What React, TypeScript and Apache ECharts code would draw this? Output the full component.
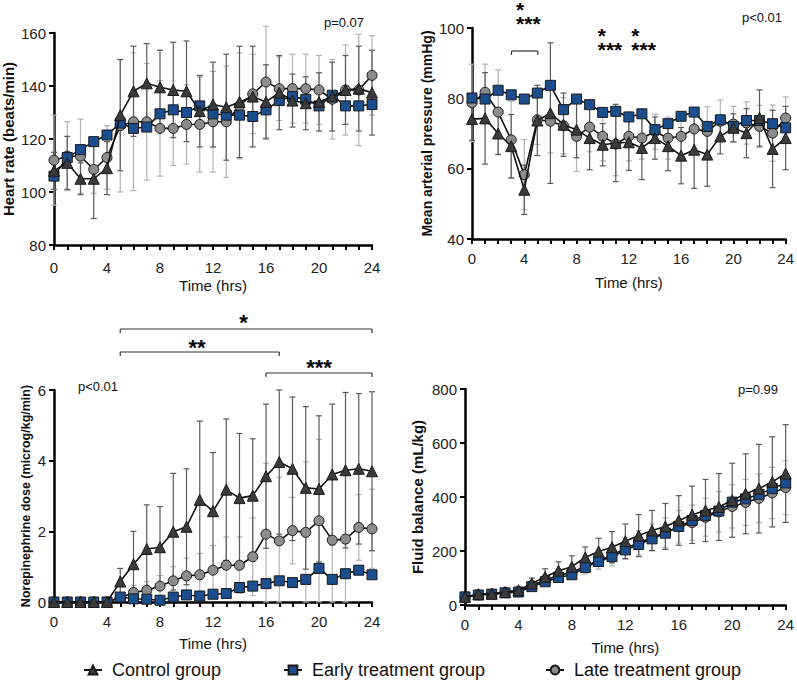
import React, { useEffect, useRef } from "react";
import * as echarts from "echarts";

const hours = [0, 1, 2, 3, 4, 5, 6, 7, 8, 9, 10, 11, 12, 13, 14, 15, 16, 17, 18, 19, 20, 21, 22, 23, 24];
const groupNames = ["Control group", "Early treatment group", "Late treatment group"];

// Heart rate (beats/min)
const hrControl = [108, 111, 105, 105, 109, 129, 138, 141, 139.5, 138.5, 138, 130.5, 133, 132, 134, 136, 134, 137.5, 134.5, 133.5, 134, 136, 138.5, 139, 137.5];
const hrEarly = [106, 113, 116, 119, 121.5, 126, 124, 124.5, 129.5, 131, 130, 132.5, 129.5, 129, 129, 128.5, 131, 134.5, 136, 135, 132.5, 136.5, 132.5, 132.5, 133];
const hrLate = [112, 113.5, 113.5, 108.5, 113, 125, 126.5, 126.5, 124, 124, 125.5, 125.5, 126.5, 126.5, 132.5, 137, 141.5, 139, 139, 139, 138.5, 135, 138.5, 138.5, 144];
const hrControlSd = [7, 10, 6, 15, 10, 21, 17, 15, 14, 18, 19, 13.5, 16, 20, 21, 19, 14, 14, 10, 10, 11, 13, 13, 16, 16];
const hrLateSd = [17, 13, 14, 9, 12, 25, 26, 22, 18, 14, 15, 18, 19, 21, 20, 15, 21, 12, 13, 13, 13, 15, 17, 21, 15];

// Mean arterial pressure (mmHg)
const mapControl = [74.1, 74.3, 70, 66.4, 54, 73.7, 75.8, 72.5, 71.1, 68.7, 66.8, 67.3, 67.5, 65.9, 68.7, 66.4, 63.7, 65.4, 64, 69.2, 71.6, 70.1, 74.4, 65.6, 68.7];
const mapEarly = [80.1, 79.8, 82.3, 81, 79.8, 81.5, 83.7, 76.8, 79.8, 78.2, 76, 76.3, 74.7, 75.6, 71.1, 72.8, 74.9, 76.1, 72, 73.9, 72, 73.7, 73.7, 72.8, 71.6];
const mapLate = [78.7, 81.7, 76.1, 68.2, 58.3, 73.9, 73.5, 72.2, 69.2, 71.8, 69.2, 67, 69.2, 68.7, 70.5, 68.7, 69.2, 71.3, 70.6, 73.5, 72.7, 73, 72, 70.1, 74.4];
const mapControlSd = [6, 13, 6, 9, 7, 10, 20, 9, 8, 9, 6, 11, 8, 9, 6, 7, 8, 11, 9, 5, 4, 7, 8, 11, 9];
const mapLateSd = [11, 8, 12, 11, 10, 7, 9, 8, 10, 7, 7, 9, 7, 6, 5, 6, 6, 6, 7, 6, 5, 6, 6, 8, 6];

// Norepinephrine dose (microg/kg/min)
const neControl = [0, 0, 0, 0, 0, 0.58, 1.07, 1.5, 1.55, 1.99, 2.13, 2.89, 2.57, 3.18, 2.94, 3.01, 3.56, 3.96, 3.77, 3.23, 3.2, 3.61, 3.73, 3.77, 3.7];
const neEarly = [0, 0, 0, 0, 0, 0.14, 0.09, 0.08, 0.05, 0.14, 0.2, 0.17, 0.22, 0.24, 0.41, 0.45, 0.52, 0.6, 0.55, 0.64, 0.95, 0.64, 0.8, 0.9, 0.77];
const neLate = [0, 0, 0, 0, 0, 0.12, 0.27, 0.33, 0.45, 0.6, 0.74, 0.77, 0.9, 1.04, 1.04, 1.28, 1.92, 1.73, 2.02, 1.97, 2.3, 1.75, 1.78, 2.11, 2.07];
const neControlSd = [0, 0, 0, 0, 0, 0.37, 0.93, 1.25, 1.15, 1.65, 1.64, 2.23, 1.66, 2.0, 1.83, 1.61, 2.04, 2.04, 2.03, 2.3, 2.07, 1.99, 2.2, 2.13, 2.25];
const neLateSd = [0, 0, 0, 0, 0, 0.1, 0.2, 0.25, 0.3, 0.4, 0.5, 0.6, 0.7, 0.8, 0.8, 1.1, 2.0, 1.8, 0.94, 2.0, 2.3, 1.8, 1.8, 0.93, 1.12];

// Fluid balance (mL/kg)
const fbControl = [30, 40, 42, 48, 55, 80, 104, 127, 142, 176, 198, 214, 236, 257, 276, 291, 313, 334, 350, 363, 388, 412, 431, 456, 487];
const fbEarly = [30, 37, 40, 45, 48, 68, 86, 102, 112, 139, 161, 179, 204, 224, 245, 266, 291, 313, 332, 348, 381, 393, 410, 431, 452];
const fbLate = [30, 38, 41, 46, 50, 72, 92, 110, 120, 145, 165, 183, 210, 230, 250, 268, 290, 305, 325, 345, 365, 380, 395, 415, 435];
const fbControlSd = [5, 6, 6, 7, 8, 20, 30, 33, 40, 39, 49, 58, 64, 78, 74, 85, 92, 106, 115, 124, 137, 148, 164, 167, 181];
const fbLateSd = [4, 5, 5, 6, 7, 12, 18, 22, 25, 30, 32, 38, 40, 45, 50, 55, 60, 65, 70, 75, 80, 85, 90, 95, 100];

// significance annotations
const mapStarLabel = "*\n***";
const mapStarHours = [3.35, 9.55, 12.1];

const FONT = "'Liberation Sans', Arial, Helvetica, sans-serif";
const COLORS = { control: "#3a3a3a", early: "#1b4e8e", late: "#8c8c8c" };
const ERR_DARK = "#5a5a5a";
const ERR_LIGHT = "#b3b3b3";

const grids = [
  { left: 54, top: 33, width: 318, height: 212 },
  { left: 472, top: 28, width: 316, height: 211 },
  { left: 54, top: 390, width: 318, height: 212 },
  { left: 465, top: 389, width: 324, height: 216 },
];

const panels = [
  { name: "Heart rate (beats/min)", nameSize: 15, nameGap: 38, min: 80, max: 160, interval: 20, xGap: 33, lblMargin: 15, c: hrControl, e: hrEarly, l: hrLate, cs: hrControlSd, ls: hrLateSd },
  { name: "Mean arterial pressure (mmHg)", nameSize: 14, nameGap: 38, min: 40, max: 100, interval: 20, xGap: 36, lblMargin: 12, c: mapControl, e: mapEarly, l: mapLate, cs: mapControlSd, ls: mapLateSd },
  { name: "Norepinephrine dose (microg/kg/min)", nameSize: 12.5, nameGap: 22, min: 0, max: 6, interval: 2, xGap: 34, lblMargin: 12, c: neControl, e: neEarly, l: neLate, cs: neControlSd, ls: neLateSd },
  { name: "Fluid balance (mL/kg)", nameSize: 15, nameGap: 40, min: 0, max: 800, interval: 200, xGap: 35, lblMargin: 12, c: fbControl, e: fbEarly, l: fbLate, cs: fbControlSd, ls: fbLateSd },
];

function errSeries(gi: number, means: number[], sds: number[], color: string, floor: number) {
  const data = hours.map((h, i) => [h, Math.max(floor, means[i] - sds[i]), means[i] + sds[i]]);
  return {
    type: "custom",
    name: "err" + gi + color,
    xAxisIndex: gi,
    yAxisIndex: gi,
    z: 2,
    silent: true,
    encode: { x: 0, y: [1, 2] },
    data,
    renderItem: (params: any, api: any) => {
      const x = api.value(0);
      const lo = api.value(1);
      const hi = api.value(2);
      if (hi - lo <= 0) return { type: "group", children: [] };
      const pLo = api.coord([x, lo]);
      const pHi = api.coord([x, hi]);
      const hw = 3;
      const st = { stroke: color, lineWidth: 1.2 };
      return {
        type: "group",
        children: [
          { type: "line", shape: { x1: pLo[0], y1: pLo[1], x2: pHi[0], y2: pHi[1] }, style: st },
          { type: "line", shape: { x1: pHi[0] - hw, y1: pHi[1], x2: pHi[0] + hw, y2: pHi[1] }, style: st },
          { type: "line", shape: { x1: pLo[0] - hw, y1: pLo[1], x2: pLo[0] + hw, y2: pLo[1] }, style: st },
        ],
      };
    },
  };
}

function lineSeries(gi: number, name: string, values: number[], symbol: string, color: string, size: number, z: number) {
  return {
    type: "line",
    name,
    xAxisIndex: gi,
    yAxisIndex: gi,
    z,
    data: hours.map((h, i) => [h, values[i]]),
    symbol,
    symbolSize: size,
    showAllSymbol: true,
    lineStyle: { color: "#111", width: 1.6 },
    itemStyle: { color, borderColor: "#1a1a1a", borderWidth: 1 },
    emphasis: { disabled: true },
  };
}

export default function App() {
  const ref = useRef<HTMLDivElement>(null);
  useEffect(() => {
    if (!ref.current) return;
    const chart = echarts.init(ref.current, undefined, { renderer: "svg" });

    const xAxes = panels.map((p, gi) => ({
      type: "value",
      gridIndex: gi,
      min: 0,
      max: 24,
      interval: 1,
      name: "Time (hrs)",
      nameLocation: "middle",
      nameGap: p.xGap,
      nameTextStyle: { fontSize: 15, color: "#111", fontFamily: FONT },
      axisLine: { show: true, onZero: false, lineStyle: { color: "#000", width: 2.5 } },
      axisTick: { show: true, length: 5, lineStyle: { color: "#000", width: 2 } },
      axisLabel: {
        formatter: (v: number) => (v % 4 === 0 ? String(v) : ""),
        fontSize: 15,
        color: "#222",
        margin: p.lblMargin,
        fontFamily: FONT,
      },
      splitLine: { show: false },
    }));

    const yAxes = panels.map((p, gi) => ({
      type: "value",
      gridIndex: gi,
      min: p.min,
      max: p.max,
      interval: p.interval,
      name: p.name,
      nameLocation: "middle",
      nameRotate: 90,
      nameGap: p.nameGap,
      nameTextStyle: { fontSize: p.nameSize, fontWeight: "bold", color: "#111", fontFamily: FONT },
      axisLine: { show: true, onZero: false, lineStyle: { color: "#000", width: 2.5 } },
      axisTick: { show: true, length: 5, lineStyle: { color: "#000", width: 2 } },
      axisLabel: { fontSize: 15, color: "#222", margin: 8, fontFamily: FONT },
      splitLine: { show: false },
    }));

    const series: any[] = [];
    panels.forEach((p, gi) => {
      series.push(errSeries(gi, p.l, p.ls, ERR_LIGHT, p.min));
      series.push(errSeries(gi, p.c, p.cs, ERR_DARK, p.min));
      series.push(lineSeries(gi, groupNames[2], p.l, "circle", COLORS.late, 10, 3));
      series.push(lineSeries(gi, groupNames[1], p.e, "rect", COLORS.early, 10, 4));
      series.push(lineSeries(gi, groupNames[0], p.c, "triangle", COLORS.control, 11, 5));
    });

    // helpers for annotation positions from grid geometry
    const xPix = (gi: number, t: number) => grids[gi].left + (t / 24) * grids[gi].width;
    const star = (x: number, y: number, s: string) => ({
      type: "text",
      x,
      y,
      style: { text: s, font: `bold 22px ${FONT}`, fill: "#000", align: "center", verticalAlign: "middle" },
    });
    const starStack = (x: number, yTop: number, s: string) => ({
      type: "text",
      x,
      y: yTop,
      style: { text: s, font: `bold 21px ${FONT}`, fill: "#000", align: "left", verticalAlign: "top", lineHeight: 13.5 },
    });
    const bracket = (gi: number, t1: number, t2: number, y: number) => {
      const x1 = xPix(gi, t1);
      const x2 = xPix(gi, t2);
      const st = { stroke: "#333", lineWidth: 1.2 };
      return [
        { type: "line", shape: { x1, y1: y, x2, y2: y }, style: st },
        { type: "line", shape: { x1, y1: y, x2: x1, y2: y + 4 }, style: st },
        { type: "line", shape: { x1: x2, y1: y, x2, y2: y + 4 }, style: st },
      ];
    };
    const pText = (x: number, y: number, s: string) => ({
      type: "text",
      x,
      y,
      style: { text: s, font: `13px ${FONT}`, fill: "#111", align: "center", verticalAlign: "middle" },
    });

    const graphic: any[] = [
      pText(344, 22, "p=0.07"),
      pText(762, 17, "p<0.01"),
      pText(98, 386, "p<0.01"),
      pText(758, 389, "p=0.99"),
      starStack(xPix(1, mapStarHours[0]), 3, mapStarLabel),
      ...bracket(1, 3, 5, 51),
      starStack(xPix(1, mapStarHours[1]), 29, mapStarLabel),
      starStack(xPix(1, mapStarHours[2]), 29, mapStarLabel),
      star(xPix(2, 14.3), 322, "*"),
      ...bracket(2, 5, 24, 329),
      star(xPix(2, 10.8), 347, "**"),
      ...bracket(2, 5, 17, 352),
      star(xPix(2, 20), 367, "***"),
      ...bracket(2, 16, 24, 373),
    ];

    const legendBase = {
      orient: "horizontal",
      itemWidth: 18,
      itemHeight: 11,
      itemGap: 0,
      padding: 0,
      top: 661,
      formatter: (n: string) => " " + n,
      textStyle: { fontSize: 18, color: "#111", fontFamily: FONT },
      selectedMode: false,
    };

    chart.setOption({
      animation: false,
      backgroundColor: "#fff",
      grid: grids.map((g) => ({ ...g })),
      xAxis: xAxes,
      yAxis: yAxes,
      series,
      legend: [
        { ...legendBase, data: [groupNames[0]], left: 83 },
        { ...legendBase, data: [groupNames[1]], left: 283 },
        { ...legendBase, data: [groupNames[2]], left: 545 },
      ],
      graphic,
    });
    return () => chart.dispose();
  }, []);
  return <div ref={ref} style={{ position: "absolute", left: 0, top: 0, width: 797, height: 681 }} />;
}
